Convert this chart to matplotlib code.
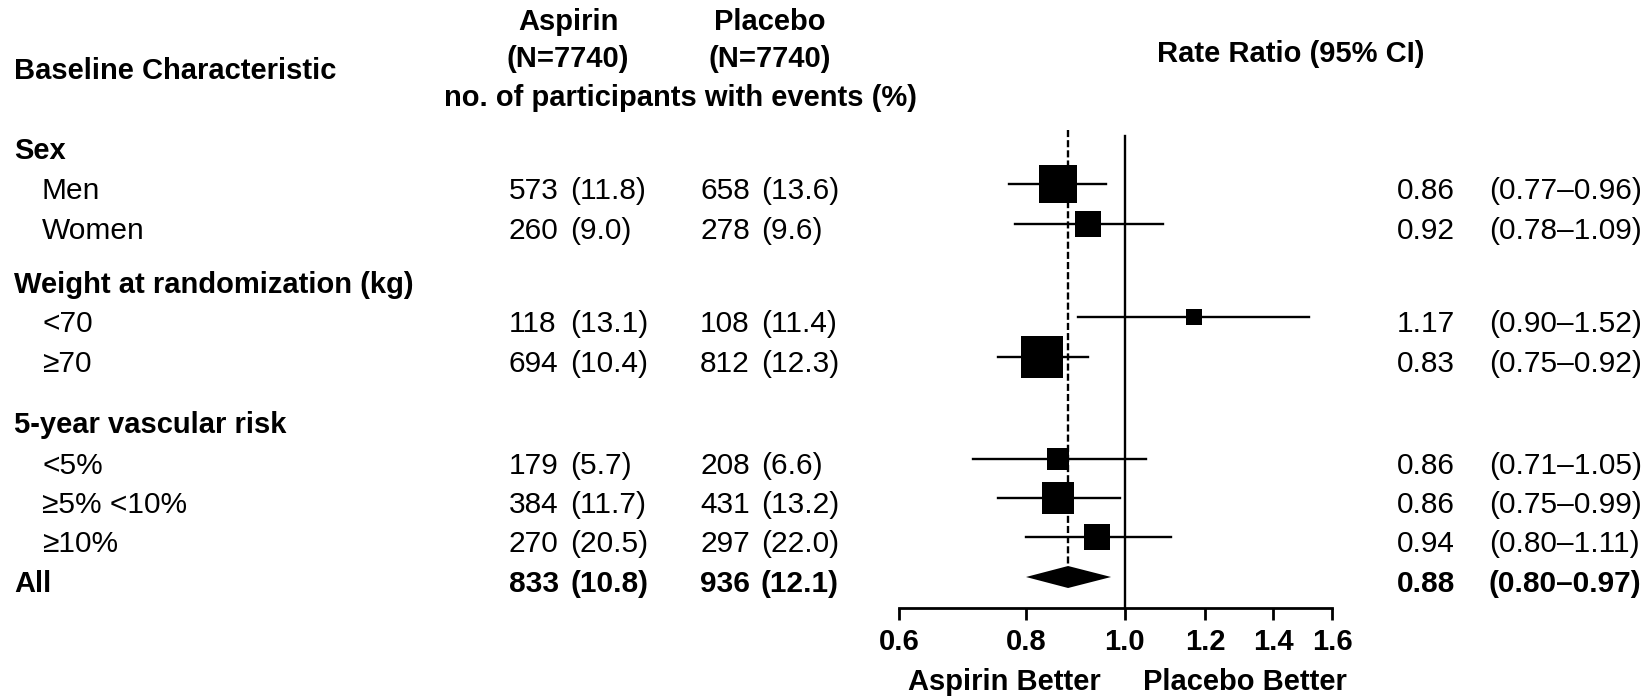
import numpy as np
import matplotlib
matplotlib.use("Agg")
import matplotlib.pyplot as plt

plt.rcParams['font.family'] = ['Liberation Sans', 'DejaVu Sans']

# Subgroup data (aspirin vs placebo events, rate ratios)
labels = ['Sex', 'Men', 'Women', 'Weight at randomization (kg)', '<70', '\u226570',
          '5-year vascular risk', '<5%', '\u22655% <10%', '\u226510%', 'All']
is_header = [True, False, False, True, False, False, True, False, False, False, False]
aspirin_n = [None, 573, 260, None, 118, 694, None, 179, 384, 270, 833]
aspirin_pct = [None, 11.8, 9.0, None, 13.1, 10.4, None, 5.7, 11.7, 20.5, 10.8]
placebo_n = [None, 658, 278, None, 108, 812, None, 208, 431, 297, 936]
placebo_pct = [None, 13.6, 9.6, None, 11.4, 12.3, None, 6.6, 13.2, 22.0, 12.1]
rate_ratio = [None, 0.86, 0.92, None, 1.17, 0.83, None, 0.86, 0.86, 0.94, 0.88]
ci_low = [None, 0.77, 0.78, None, 0.90, 0.75, None, 0.71, 0.75, 0.80, 0.80]
ci_high = [None, 0.96, 1.09, None, 1.52, 0.92, None, 1.05, 0.99, 1.11, 0.97]
xticks = [0.6, 0.8, 1.0, 1.2, 1.4, 1.6]

# vertical row centres in pixels from the top of the figure
row_y = [144, 184, 224, 278, 317, 357, 418, 459, 498, 537, 577]

W, H = 1651, 696
fig = plt.figure(figsize=(W / 100, H / 100), dpi=100)

# overlay axes in pixel units for the table text
tab = fig.add_axes([0, 0, 1, 1])
tab.set_xlim(0, W)
tab.set_ylim(H, 0)
tab.axis('off')

fs = 21.5
hfs = 21
# headers
tab.text(14, 79, 'Baseline Characteristic', fontsize=hfs, fontweight='bold', va='baseline')
tab.text(568, 30, 'Aspirin', fontsize=hfs, fontweight='bold', ha='center', va='baseline')
tab.text(568, 67, '(N=7740)', fontsize=hfs, fontweight='bold', ha='center', va='baseline')
tab.text(770, 30, 'Placebo', fontsize=hfs, fontweight='bold', ha='center', va='baseline')
tab.text(770, 67, '(N=7740)', fontsize=hfs, fontweight='bold', ha='center', va='baseline')
tab.text(680, 106, 'no. of participants with events (%)', fontsize=hfs, fontweight='bold',
         ha='center', va='baseline')
tab.text(1291, 62, 'Rate Ratio (95% CI)', fontsize=hfs, fontweight='bold', ha='center', va='baseline')

for i, lab in enumerate(labels):
    base = row_y[i] + 15
    bold = is_header[i] or lab == 'All'
    fw = 'bold' if bold else 'normal'
    tab.text(14 if bold else 42, base, lab, fontsize=hfs if bold else fs, fontweight=fw,
             va='baseline')
    if aspirin_n[i] is None:
        continue
    tab.text(509, base, str(aspirin_n[i]), fontsize=fs, fontweight=fw, va='baseline')
    tab.text(570, base, '(%.1f)' % aspirin_pct[i], fontsize=fs, fontweight=fw, va='baseline')
    tab.text(700, base, str(placebo_n[i]), fontsize=fs, fontweight=fw, va='baseline')
    tab.text(761, base, '(%.1f)' % placebo_pct[i], fontsize=fs, fontweight=fw, va='baseline')
    tab.text(1397, base, '%.2f' % rate_ratio[i], fontsize=fs, fontweight=fw, va='baseline')
    tab.text(1489, base, '(%.2f\u2013%.2f)' % (ci_low[i], ci_high[i]), fontsize=fs,
             fontweight=fw, va='baseline')

# forest plot axes, log scale
x0, x1, yb = 899, 1332, 608
ax = fig.add_axes([x0 / W, (H - yb) / H, (x1 - x0) / W, yb / H])
ax.set_xscale('log')
ax.set_xlim(0.6, 1.6)
ax.set_ylim(yb, 0)
ax.patch.set_alpha(0)
for s in ['left', 'right', 'top']:
    ax.spines[s].set_visible(False)
ax.spines['bottom'].set_linewidth(2)
ax.set_yticks([])
ax.set_xticks(xticks)
ax.set_xticks([], minor=True)
ax.set_xticklabels(['%.1f' % t for t in xticks], fontsize=21, fontweight='bold')
ax.tick_params(axis='x', direction='out', length=8.6, width=2, pad=6)

overall = rate_ratio[-1]
ax.plot([1.0, 1.0], [136, yb], color='black', lw=1.7, clip_on=False)
ax.plot([overall, overall], [130, 566], color='black', lw=1.7,
        linestyle=(0, (3.0, 1.3)), clip_on=False)

for i in range(len(labels) - 1):
    if rate_ratio[i] is None:
        continue
    y = row_y[i]
    ax.plot([ci_low[i], ci_high[i]], [y, y], color='black', lw=1.7, clip_on=False)
    side_px = 1.1 * np.sqrt(aspirin_n[i] + placebo_n[i])
    ax.plot(rate_ratio[i], y, marker='s', color='black', markersize=side_px * 0.72,
            markeredgewidth=0, clip_on=False)

# overall diamond
yd = row_y[-1]
ax.fill([ci_low[-1], overall, ci_high[-1], overall], [yd, yd - 11, yd, yd + 11],
        color='black', lw=0, clip_on=False)

tab.text(1004, 690, 'Aspirin Better', fontsize=21, fontweight='bold', ha='center', va='baseline')
tab.text(1245, 690, 'Placebo Better', fontsize=21, fontweight='bold', ha='center', va='baseline')

fig.savefig('out.png', dpi=100)
